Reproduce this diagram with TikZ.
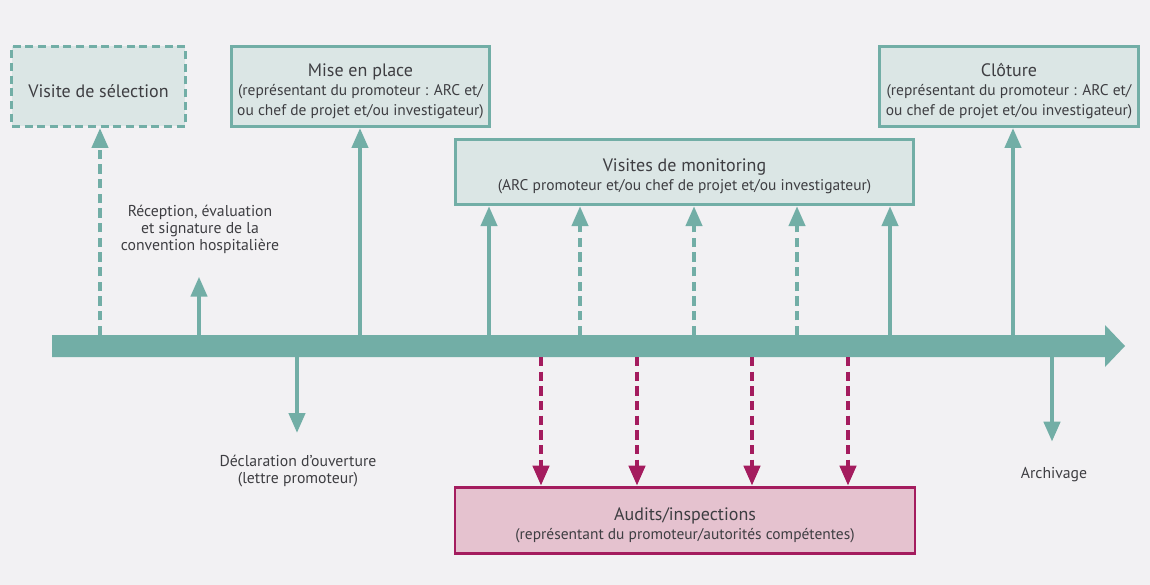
\documentclass[tikz,border=0pt]{standalone}
\usepackage{fontspec}
\setmainfont{PT Sans}
\usetikzlibrary{arrows.meta, positioning, calc}
\definecolor{jalonteal}{RGB}{114,174,166}
\definecolor{jalonfill}{RGB}{219,230,229}
\definecolor{auditmag}{RGB}{164,28,94}
\definecolor{auditfill}{RGB}{229,194,207}
\definecolor{textgray}{RGB}{62,62,66}
\definecolor{fondgris}{RGB}{242,241,243}

\newcommand{\titrebox}[1]{{\fontsize{13.5}{15.5}\selectfont\rule{0pt}{16.5pt}#1}}

\tikzset{
  etape/.style={draw=jalonteal, fill=jalonfill, line width=2.2pt, align=center,
    text=textgray, font=\fontsize{11.6}{14.5}\selectfont, inner sep=2pt},
  audit/.style={etape, draw=auditmag, fill=auditfill},
  legende/.style={align=center, text=textgray, font=\fontsize{11.8}{12.8}\selectfont},
  fleche/.style={jalonteal, line width=3.2pt, -{Triangle[length=15pt, width=12pt]}},
  flechetiret/.style={fleche, dash pattern=on 7pt off 4pt},
  flecheaudit/.style={flechetiret, auditmag}
}

\begin{document}
\begin{tikzpicture}[x=0.75pt, y=-0.75pt]
  \fill[fondgris] (0,0) rectangle (1150,585);
  \useasboundingbox (0,0) rectangle (1150,585);

  % timeline
  \coordinate (debut) at (52,346);
  \coordinate (fin) at (1125,346);
  \fill[jalonteal] (52,335) -- (1105,335) -- (1105,325) -- (fin)
    -- (1105,367) -- (1105,357) -- (52,357) -- cycle;

  % boxes
  \node[etape, dash pattern=on 6pt off 3.5pt, minimum width=130pt, minimum height=60pt]
    (selection) at (98.5,86.5) {\titrebox{Visite de sélection}};
  \node[etape, minimum width=194pt, minimum height=60pt] (miseplace) at (360.5,86.5)
    {\titrebox{Mise en place}\\(représentant du promoteur : ARC et/\\ou chef de projet et/ou investigateur)};
  \node[etape, minimum width=194pt, minimum height=60pt] (cloture) at (1009,86.5)
    {\titrebox{Clôture}\\(représentant du promoteur : ARC et/\\ou chef de projet et/ou investigateur)};
  \node[etape, minimum width=344pt, minimum height=49pt] (monitoring) at (684.5,172)
    {\titrebox{Visites de monitoring}\\(ARC promoteur et/ou chef de projet et/ou investigateur)};
  \node[audit, minimum width=345pt, minimum height=50pt] (audits) at (685,520.5)
    {\titrebox{Audits/inspections}\\(représentant du promoteur/autorités compétentes)};

  % free labels
  \node[legende] (reception) at (200,229)
    {Réception, évaluation\\et signature de la\\convention hospitalière};
  \node[legende] (declaration) at (298,471) {Déclaration d’ouverture\\(lettre promoteur)};
  \node[legende] (archivage) at (1054,475) {Archivage};

  % up arrows
  \foreach \x/\nom in {100/a, 199/b, 360/c, 489/d, 580/e, 694/f, 797/g, 890/h, 1013/i}
    \coordinate (haut\nom) at (\x,335);
  \draw[flechetiret] (hauta) -- (hauta |- selection.south);
  \draw[fleche, shorten >=14pt] (hautb) -- (hautb |- reception.south);
  \draw[fleche] (hautc) -- (hautc |- miseplace.south);
  \draw[fleche] (hautd) -- (hautd |- monitoring.south);
  \draw[flechetiret] (haute) -- (haute |- monitoring.south);
  \draw[flechetiret] (hautf) -- (hautf |- monitoring.south);
  \draw[flechetiret] (hautg) -- (hautg |- monitoring.south);
  \draw[fleche] (hauth) -- (hauth |- monitoring.south);
  \draw[fleche] (hauti) -- (hauti |- cloture.south);

  % down arrows
  \foreach \x/\nom in {297/a, 541/b, 637/c, 752/d, 848/e, 1052/f}
    \coordinate (bas\nom) at (\x,357);
  \draw[fleche, shorten >=13pt] (basa) -- (basa |- declaration.north);
  \foreach \nom in {b, c, d, e}
    \draw[flecheaudit] (bas\nom) -- (bas\nom |- audits.north);
  \draw[fleche, shorten >=16pt] (basf) -- (basf |- archivage.north);
\end{tikzpicture}
\end{document}
